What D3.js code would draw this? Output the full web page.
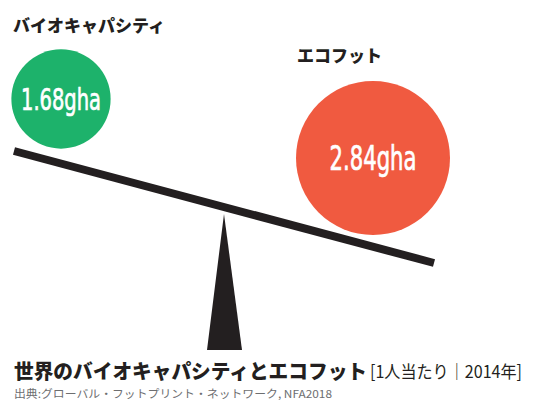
<!DOCTYPE html>
<html>
<head>
<meta charset="utf-8">
<script src="https://cdn.jsdelivr.net/npm/d3@7"></script>
<style>
  html, body { margin: 0; padding: 0; background: #fff; }
  svg { display: block; }
</style>
</head>
<body>
<div id="chart"></div>
<script>
// data
var categories = ['バイオキャパシティ', 'エコフット'];
var values = [1.68, 2.84];
var unit = 'gha';
var colors = ['#1db26b', '#f05a40'];
var titleMain = '世界のバイオキャパシティとエコフット';
var titleSub = '[1人当たり｜2014年]';
var source = '出典:グローバル・フットプリント・ネットワーク, NFA2018';

var width = 536, height = 403;
var svg = d3.select('#chart').append('svg')
  .attr('width', width)
  .attr('height', height);

var jp = '"Noto Sans CJK JP", "Noto Sans", sans-serif';
var narrow = '"Liberation Sans Narrow", "DejaVu Sans Condensed", sans-serif';

// radius scale
var r = d3.scaleLinear().domain([0, d3.max(values)]).range([10, 77]);

// seesaw beam
var beam = { x1: 14, y1: 151, x2: 434, y2: 263 };
svg.append('line')
  .attr('x1', beam.x1).attr('y1', beam.y1)
  .attr('x2', beam.x2).attr('y2', beam.y2)
  .attr('stroke', '#231f20')
  .attr('stroke-width', 8);

// fulcrum
svg.append('path')
  .attr('d', 'M224,214 L242,350 L207,350 Z')
  .attr('fill', '#231f20');

// circles
var centers = [[61, 99], [373, 158]];
var nodes = categories.map(function(c, i) {
  return { name: c, value: values[i], cx: centers[i][0], cy: centers[i][1], color: colors[i] };
});

svg.selectAll('.ball').data(nodes).enter().append('circle')
  .attr('class', 'ball')
  .attr('cx', function(d) { return d.cx; })
  .attr('cy', function(d) { return d.cy; })
  .attr('r', function(d) { return r(d.value); })
  .attr('fill', function(d) { return d.color; });

var valSize = [31, 34];
var valWidth = [80, 87];
svg.selectAll('.val').data(nodes).enter().append('text')
  .attr('class', 'val')
  .attr('x', function(d) { return d.cx; })
  .attr('y', function(d, i) { return d.cy + valSize[i] * 0.36; })
  .attr('text-anchor', 'middle')
  .attr('fill', '#fff')
  .attr('stroke', '#fff')
  .attr('stroke-width', 0.7)
  .attr('font-family', narrow)
  .attr('font-size', function(d, i) { return valSize[i]; })
  .attr('textLength', function(d, i) { return valWidth[i]; })
  .attr('lengthAdjust', 'spacingAndGlyphs')
  .text(function(d) { return d.value.toFixed(2) + unit; });

// category labels
var labelPos = [[13, 32], [297, 62]];
svg.selectAll('.cat').data(nodes).enter().append('text')
  .attr('class', 'cat')
  .attr('x', function(d, i) { return labelPos[i][0]; })
  .attr('y', function(d, i) { return labelPos[i][1]; })
  .attr('fill', '#231f20')
  .attr('font-family', jp)
  .attr('font-weight', 900)
  .attr('font-size', 17)
  .text(function(d) { return d.name; });

// title
svg.append('text')
  .attr('x', 14).attr('y', 379)
  .attr('fill', '#231f20')
  .attr('font-family', jp)
  .attr('font-weight', 900)
  .attr('font-size', 20)
  .attr('textLength', 353)
  .attr('lengthAdjust', 'spacingAndGlyphs')
  .text(titleMain);

svg.append('text')
  .attr('x', 370).attr('y', 378)
  .attr('fill', '#231f20')
  .attr('font-family', jp)
  .attr('font-size', 17)
  .attr('textLength', 152)
  .attr('lengthAdjust', 'spacingAndGlyphs')
  .text(titleSub);

svg.append('text')
  .attr('x', 14).attr('y', 398)
  .attr('fill', '#6d6e70')
  .attr('font-family', jp)
  .attr('font-size', 11)
  .attr('textLength', 318)
  .attr('lengthAdjust', 'spacingAndGlyphs')
  .text(source);
</script>
</body>
</html>
